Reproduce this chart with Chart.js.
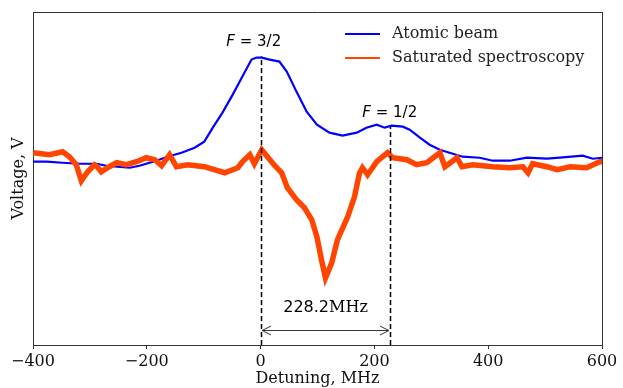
<!DOCTYPE html>
<html>
<head>
<meta charset="utf-8">
<script src="https://cdn.jsdelivr.net/npm/chart.js@4/dist/chart.umd.min.js"></script>
<style>
html,body{margin:0;padding:0;background:#fff;}
#wrap{width:623px;height:388px;position:relative;}
</style>
</head>
<body>
<div id="wrap"><canvas id="c" width="623" height="388"></canvas></div>
<script>
// ---- data ----
const seriesLabels = ["Atomic beam", "Saturated spectroscopy"];
const seriesColors = ["#0000ff", "#ff4500"];

const beamX = [-400,-376,-348,-318,-288,-271,-252,-230,-213,-195,-183,-164,-139,-116,-99,-84,-67,-49,-32,-16,-7,2,16,33,46,63,81,99,121,144,169,186,204,218,230,250,262,280,297,315,332,355,385,408,438,468,503,526,566,584,600];
const beamY = [1.83,1.83,1.82,1.81,1.81,1.79,1.78,1.77,1.79,1.82,1.84,1.88,1.92,1.97,2.03,2.17,2.32,2.50,2.68,2.85,2.87,2.87,2.85,2.83,2.73,2.53,2.33,2.20,2.12,2.09,2.12,2.17,2.20,2.17,2.19,2.18,2.15,2.07,2.00,1.95,1.92,1.88,1.87,1.84,1.84,1.87,1.86,1.87,1.89,1.86,1.87];

const satX = [-400,-371,-348,-336,-324,-315,-304,-292,-287,-280,-266,-253,-236,-218,-201,-186,-174,-160,-148,-128,-99,-63,-40,-32,-19,-11,2,12,25,37,47,63,77,90,99,107,114,125,135,153,165,174,179,188,204,223,232,257,274,292,315,324,345,354,373,408,438,461,470,478,503,521,544,573,596,600];
const satY = [1.92,1.90,1.93,1.88,1.80,1.64,1.73,1.80,1.78,1.73,1.78,1.82,1.80,1.83,1.87,1.85,1.79,1.90,1.78,1.80,1.78,1.72,1.77,1.83,1.90,1.81,1.95,1.88,1.79,1.72,1.57,1.45,1.37,1.25,1.08,0.85,0.67,0.82,1.05,1.28,1.48,1.72,1.77,1.70,1.83,1.92,1.87,1.85,1.80,1.82,1.92,1.78,1.87,1.78,1.80,1.78,1.77,1.78,1.72,1.81,1.78,1.75,1.78,1.77,1.83,1.83];

const xTicks = [-400,-200,0,200,400,600];
const markerX = [0, 228.2];
const markerTopY = [2.88, 2.18];
const markerLabels = ["3/2", "1/2"];
const markerLabelX = [-12, 227];
const markerLabelY = [3.02, 2.32];
const spacingText = "228.2";
const spacingUnit = "MHz";
const spacingArrowY = 0.15;
const spacingTextY = 0.37;

const xMin = -400, xMax = 600, yMin = 0, yMax = 3.325;

// ---- build ----
const toPts = (xs, ys) => xs.map((x, i) => ({x: x, y: ys[i]}));

const frame = {
  id: 'frame',
  afterDatasetsDraw(chart) {
    const ctx = chart.ctx, a = chart.chartArea;
    const xs = chart.scales.x, ys = chart.scales.y;
    ctx.save();
    // dashed markers
    ctx.strokeStyle = '#000';
    ctx.lineWidth = 1.5;
    ctx.setLineDash([5, 3]);
    markerX.forEach((mx, i) => {
      const px = Math.round(xs.getPixelForValue(mx)) + 0.5;
      ctx.beginPath();
      ctx.moveTo(px, ys.getPixelForValue(yMin));
      ctx.lineTo(px, ys.getPixelForValue(markerTopY[i]));
      ctx.stroke();
    });
    ctx.setLineDash([]);
    // arrow
    const x0 = xs.getPixelForValue(markerX[0]) + 1.5;
    const x1 = xs.getPixelForValue(markerX[1]) - 1.5;
    const ay = Math.round(ys.getPixelForValue(spacingArrowY)) + 0.5;
    ctx.strokeStyle = '#333';
    ctx.lineWidth = 1;
    ctx.beginPath();
    ctx.moveTo(x0, ay); ctx.lineTo(x1, ay);
    ctx.moveTo(x0 + 9, ay - 4.5); ctx.lineTo(x0, ay); ctx.lineTo(x0 + 9, ay + 4.5);
    ctx.moveTo(x1 - 9, ay - 4.5); ctx.lineTo(x1, ay); ctx.lineTo(x1 - 9, ay + 4.5);
    ctx.stroke();
    // spacing text
    const ty = ys.getPixelForValue(spacingTextY);
    const cx = (xs.getPixelForValue(markerX[0]) + xs.getPixelForValue(markerX[1])) / 2;
    ctx.fillStyle = '#000';
    ctx.textBaseline = 'middle';
    ctx.font = '16px "DejaVu Sans"';
    const w1 = ctx.measureText(spacingText).width;
    ctx.font = '16px "DejaVu Serif"';
    const w2 = ctx.measureText(spacingUnit).width;
    let sx = cx - (w1 + w2) / 2;
    ctx.textAlign = 'left';
    ctx.font = '16px "DejaVu Sans"';
    ctx.fillText(spacingText, sx, ty);
    ctx.font = '16px "DejaVu Serif"';
    ctx.fillText(spacingUnit, sx + w1, ty);
    // F labels
    markerLabels.forEach((lab, i) => {
      const lx = xs.getPixelForValue(markerLabelX[i]);
      const ly = ys.getPixelForValue(markerLabelY[i]);
      ctx.font = 'oblique 15px "DejaVu Sans"';
      const wf = ctx.measureText('F').width;
      ctx.font = '15px "DejaVu Sans"';
      const rest = ' = ' + lab;
      const wr = ctx.measureText(rest).width;
      let s = lx - (wf + wr) / 2;
      ctx.font = 'oblique 15px "DejaVu Sans"';
      ctx.fillText('F', s, ly);
      ctx.font = '15px "DejaVu Sans"';
      ctx.fillText(rest, s + wf, ly);
    });
    // frame top/right
    ctx.strokeStyle = '#333';
    ctx.lineWidth = 1;
    ctx.beginPath();
    ctx.moveTo(a.left, Math.round(a.top) + 0.5);
    ctx.lineTo(a.right, Math.round(a.top) + 0.5);
    ctx.moveTo(Math.round(a.right) + 0.5, a.top);
    ctx.lineTo(Math.round(a.right) + 0.5, a.bottom);
    ctx.stroke();
    // legend
    ctx.font = '16px "DejaVu Serif"';
    ctx.textAlign = 'left';
    ctx.textBaseline = 'middle';
    chart.data.datasets.forEach((ds, i) => {
      const y = a.top + 22 + i * 24;
      const lx = a.right - 257;
      ctx.strokeStyle = ds.borderColor;
      ctx.lineWidth = 2;
      ctx.beginPath();
      ctx.moveTo(lx, y); ctx.lineTo(lx + 35, y);
      ctx.stroke();
      ctx.fillStyle = '#222';
      ctx.fillText(ds.label, lx + 47, y);
    });
    ctx.restore();
  }
};

new Chart(document.getElementById('c'), {
  type: 'line',
  data: {
    datasets: [
      {label: seriesLabels[0], data: toPts(beamX, beamY), borderColor: seriesColors[0], borderWidth: 2.2, pointRadius: 0, tension: 0, order: 1},
      {label: seriesLabels[1], data: toPts(satX, satY), borderColor: seriesColors[1], borderWidth: 5.5, pointRadius: 0, tension: 0, order: 0}
    ]
  },
  options: {
    responsive: false,
    animation: false,
    events: [],
    layout: {padding: {left: 0, top: 12, right: 21, bottom: 0}},
    plugins: {legend: {display: false}, tooltip: {enabled: false}},
    scales: {
      x: {
        type: 'linear', min: xMin, max: xMax,
        afterBuildTicks: (s) => { s.ticks = xTicks.map(v => ({value: v})); },
        afterFit: (s) => { s.height = 43; },
        ticks: {
          font: {family: 'DejaVu Serif', size: 16}, color: '#111', padding: 3,
          maxRotation: 0, autoSkip: false,
          callback: (v) => (v < 0 ? '\u2212' + Math.abs(v) : String(v))
        },
        grid: {display: true, drawOnChartArea: false, drawTicks: true, tickLength: 4, tickColor: '#333', tickWidth: 1},
        border: {display: true, color: '#333', width: 1},
        title: {display: true, text: 'Detuning, MHz', font: {family: 'DejaVu Serif', size: 16}, color: '#111', padding: {top: 0, bottom: 0}}
      },
      y: {
        type: 'linear', min: yMin, max: yMax,
        afterFit: (s) => { s.width = 33; },
        ticks: {display: false},
        grid: {display: false},
        border: {display: true, color: '#333', width: 1},
        title: {display: true, text: 'Voltage, V', font: {family: 'DejaVu Serif', size: 16}, color: '#111', padding: {top: 9, bottom: 0}}
      }
    }
  },
  plugins: [frame]
});
</script>
</body>
</html>
